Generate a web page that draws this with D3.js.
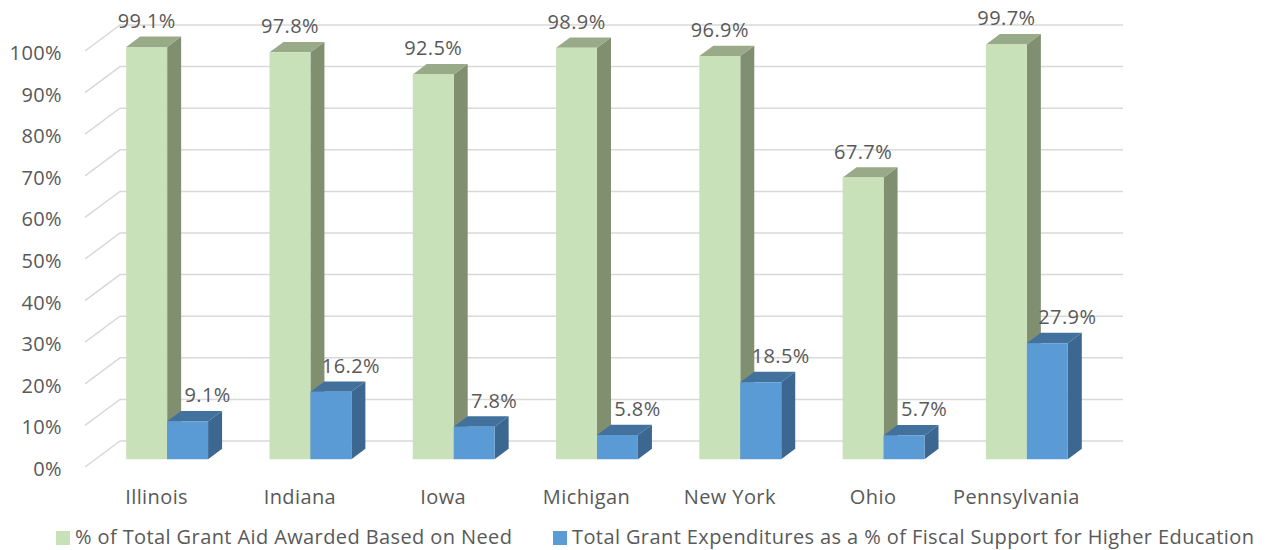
<!DOCTYPE html>
<html>
<head>
    <meta charset="utf-8">
    <title>Grant aid chart</title>
    <script src="https://cdn.jsdelivr.net/npm/d3@7/dist/d3.min.js"></script>
    <style>
        body { margin: 0; background: white; }
        text { font-family: "Open Sans", sans-serif; fill: #595959; font-size: 20px; letter-spacing: 0.4px; }
    </style>
</head>
<body>
    <svg width="1272" height="550" id="mainsvg"></svg>
    <script>
        // data
        const categories = ['Illinois', 'Indiana', 'Iowa', 'Michigan', 'New York', 'Ohio', 'Pennsylvania'];
        const needBased = [99.1, 97.8, 92.5, 98.9, 96.9, 67.7, 99.7];
        const grantShare = [9.1, 16.2, 7.8, 5.8, 18.5, 5.7, 27.9];
        const yTicks = [0, 10, 20, 30, 40, 50, 60, 70, 80, 90, 100];
        const seriesNames = ['% of Total Grant Aid Awarded Based on Need',
            'Total Grant Expenditures as a % of Fiscal Support for Higher Education'];

        const svg = d3.select('#mainsvg');
        const base = 467;        // front floor line
        const DX = 35, DY = 26;  // depth of the plot box
        const z1 = 0.3, z2 = 0.7; // bar depth range

        const x0 = d3.scaleBand().domain(categories).range([85, 1088]);
        const x1 = d3.scaleBand().domain(['need', 'share']).range([0, x0.bandwidth()])
            .paddingInner(0).paddingOuter(0.75);
        const y = d3.scaleLinear().domain([0, 100]).range([0, 416]);

        const proj = (x, v, z) => [x + z * DX, base - y(v) - z * DY];
        const pts = arr => arr.map(p => p.join(',')).join(' ');

        const colors = {
            need: { front: '#c8e1b9', side: '#808f70', top: '#99aa88' },
            share: { front: '#5b9bd5', side: '#3b6791', top: '#41719c' }
        };

        // gridlines: left wall diagonal + back wall
        const grid = svg.append('g').attr('stroke', '#d9d9d9').attr('stroke-width', 1.5).attr('fill', 'none');
        const left = x0.range()[0], right = x0.range()[1];
        yTicks.forEach(t => {
            const a = proj(left, t, 0), b = proj(left, t, 1), c = proj(right, t, 1);
            grid.append('polyline').attr('points', pts([a, b, c]));
        });

        // y tick labels
        svg.append('g').selectAll('text').data(yTicks).join('text')
            .attr('x', 62)
            .attr('y', d => proj(left, d, 0)[1] + 9)
            .attr('text-anchor', 'end')
            .text(d => d + '%');

        // bars
        const rows = categories.map((c, i) => ({ cat: c, need: needBased[i], share: grantShare[i] }));
        const bars = svg.append('g');
        rows.forEach(r => {
            ['need', 'share'].forEach(k => {
                const v = r[k];
                const xa = x0(r.cat) + x1(k), xb = xa + x1.bandwidth();
                const g = bars.append('g');
                g.append('polygon').attr('fill', colors[k].side)
                    .attr('points', pts([proj(xb, 0, z1), proj(xb, v, z1), proj(xb, v, z2), proj(xb, 0, z2)]));
                g.append('polygon').attr('fill', colors[k].top)
                    .attr('points', pts([proj(xa, v, z1), proj(xb, v, z1), proj(xb, v, z2), proj(xa, v, z2)]));
                g.append('polygon').attr('fill', colors[k].front)
                    .attr('points', pts([proj(xa, 0, z1), proj(xb, 0, z1), proj(xb, v, z1), proj(xa, v, z1)]));
            });
        });

        // data labels
        const labels = svg.append('g').attr('text-anchor', 'middle');
        rows.forEach(r => {
            ['need', 'share'].forEach(k => {
                const v = r[k];
                const xa = x0(r.cat) + x1(k);
                const p = proj(xa + x1.bandwidth() / 2, v, z1);
                labels.append('text')
                    .attr('x', p[0] + (k === 'share' ? 20 : 0))
                    .attr('y', p[1] - 19)
                    .text(v.toFixed(1) + '%');
            });
        });

        // category labels
        svg.append('g').selectAll('text').data(categories).join('text')
            .attr('x', d => x0(d) + x0.bandwidth() / 2)
            .attr('y', 504)
            .attr('text-anchor', 'middle')
            .text(d => d);

        // legend
        const legendX = [56, 553];
        const legend = svg.append('g');
        ['need', 'share'].forEach((k, i) => {
            legend.append('rect').attr('x', legendX[i]).attr('y', 531)
                .attr('width', 14).attr('height', 14).attr('fill', colors[k].front);
            legend.append('text').attr('x', legendX[i] + 19).attr('y', 544)
                .text(seriesNames[i]);
        });
    </script>
</body>
</html>
